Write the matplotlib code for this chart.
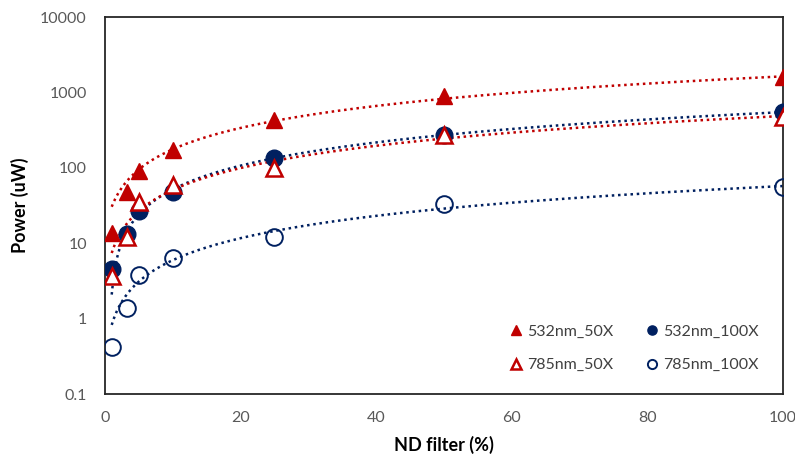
import numpy as np
import matplotlib
matplotlib.use("Agg")
import matplotlib.pyplot as plt
from matplotlib.ticker import FixedLocator, FixedFormatter, NullLocator

plt.rcParams['font.family'] = ['Lato', 'DejaVu Sans']

nd = [1, 3.2, 5, 10, 25, 50, 100]
p532_50 = [13.6, 48, 91, 172, 430, 895, 1600]
p532_100 = [4.5, 13.2, 26.7, 48, 135, 272, 550]
p785_50 = [3.7, 12.1, 35, 59, 100, 270, 480]
p785_100 = [0.42, 1.38, 3.8, 6.3, 12, 33, 56]

labels = ['532nm_50X', '532nm_100X', '785nm_50X', '785nm_100X']
red = '#C00000'
navy = '#002060'

fig = plt.figure(figsize=(7.95, 4.61), dpi=100)
ax = fig.add_axes([0.132, 0.145, 0.853, 0.818])

series = [
    (p532_50, dict(marker='^', color=red, mfc=red, mec=red), red),
    (p532_100, dict(marker='o', color=navy, mfc=navy, mec=navy), navy),
    (p785_50, dict(marker='^', color=red, mfc='white', mec=red, mew=1.8), red),
    (p785_100, dict(marker='o', color=navy, mfc='none', mec=navy, mew=1.4), navy),
]

x = np.array(nd, dtype=float)
xs = np.linspace(x.min(), x.max(), 400)
handles = []
for (vals, st, col), lab in zip(series, labels):
    y = np.array(vals, dtype=float)
    k, b = np.polyfit(x, y, 1)
    yf = k * xs + b
    yf = np.where(yf > 0, yf, np.nan)
    ax.plot(xs, yf, linestyle=(0, (1, 1.5)), color=col, lw=1.8, zorder=2)
for (vals, st, col), lab in zip(series, labels):
    h, = ax.plot(nd, vals, linestyle='none', markersize=12, label=lab, zorder=3, **st)
    handles.append(h)

ax.set_yscale('log')
ax.set_xlim(0, 100)
ax.set_ylim(0.1, 10000)
ax.xaxis.set_major_locator(FixedLocator([0, 20, 40, 60, 80, 100]))
ax.yaxis.set_major_locator(FixedLocator([0.1, 1, 10, 100, 1000, 10000]))
ax.yaxis.set_major_formatter(FixedFormatter(['0.1', '1', '10', '100', '1000', '10000']))
ax.yaxis.set_minor_locator(NullLocator())
ax.tick_params(axis='both', length=0, labelsize=11.5, colors='#595959', pad=12)
ax.tick_params(axis='y', pad=13)
for s in ax.spines.values():
    s.set_color('#262626')
    s.set_linewidth(1.3)

ax.set_xlabel('ND filter (%)', fontsize=13, fontweight='bold', color='black', labelpad=8)
ax.set_ylabel('Power (uW)', fontsize=13, fontweight='bold', color='black', labelpad=8)

order = [0, 2, 1, 3]
leg = ax.legend(handles=[handles[i] for i in order], labels=[labels[i] for i in order],
                ncol=2, loc='lower right',
                bbox_to_anchor=(0.985, 0.02), frameon=False, fontsize=11.5,
                markerscale=0.55, handlelength=0.8, handletextpad=0.3,
                columnspacing=2.0, labelspacing=1.2)
for t in leg.get_texts():
    t.set_color('#404040')

fig.savefig('out.png', dpi=100)
